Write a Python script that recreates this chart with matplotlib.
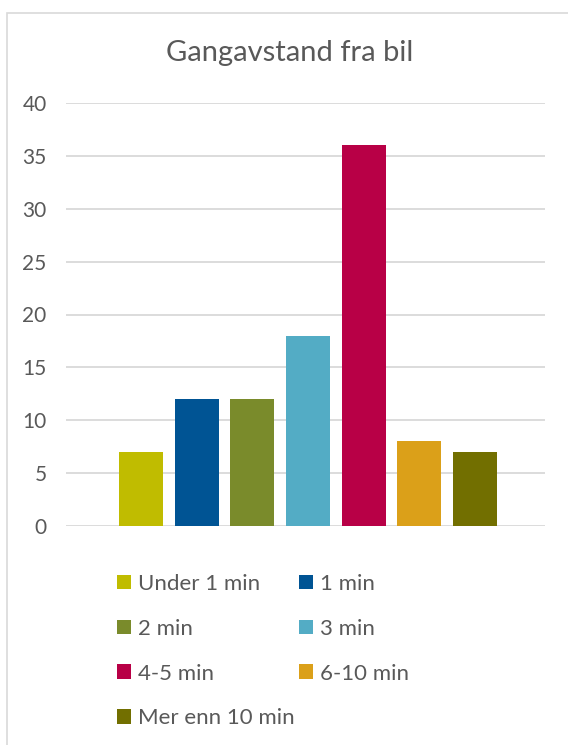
import matplotlib
matplotlib.use("Agg")
import matplotlib.pyplot as plt
from matplotlib.patches import Rectangle, Patch

categories = ["Under 1 min", "1 min", "2 min", "3 min", "4-5 min", "6-10 min", "Mer enn 10 min"]
values = [7, 12, 12, 18, 36, 8, 7]
colors = ["#c0bc00", "#005494", "#7a8b2b", "#53acc5", "#b80046", "#dba019", "#726f00"]
yticks = [0, 5, 10, 15, 20, 25, 30, 35, 40]
title = "Gangavstand fra bil"

plt.rcParams['font.family'] = ['Lato', 'DejaVu Sans']
txt = "#595959"
grid = "#d9d9d9"

W, H = 568, 745
fig = plt.figure(figsize=(W/100, H/100), dpi=100)
fig.patches.append(Rectangle((6.5/W, -0.1), 1.2, 1 - 12.5/H + 0.1, transform=fig.transFigure,
                             facecolor="none", edgecolor=grid, lw=1.2, zorder=-1))

ax = fig.add_axes([66/W, 1 - 526/H, (545-66)/W, (526-103)/H])
ax.set_facecolor("none")
x = list(range(len(categories)))
bars = ax.bar(x, values, width=0.79, color=colors, zorder=3)
ax.set_xlim(-1.347, 7.257)
ax.set_ylim(0, 40)
ax.set_yticks(yticks)
ax.set_xticks([])
for s in ax.spines.values():
    s.set_visible(False)
ax.yaxis.grid(True, color=grid, lw=1.3, zorder=0)
ax.tick_params(axis='y', length=0, pad=14, labelsize=15, labelcolor=txt)

fig.text(290 / W, 1 - 53/H, title, ha="center", va="center",
         fontsize=21, color=txt)

handles = [Patch(facecolor=c, edgecolor="none") for c in colors]
order = [0, 2, 4, 6, 1, 3, 5]
leg = fig.legend([handles[i] for i in order], [categories[i] for i in order],
                 ncol=2, loc="upper left", bbox_to_anchor=(99/W, 1 - 556/H),
                 frameon=False, fontsize=16, labelcolor=txt, borderpad=0.3,
                 handlelength=0.64, handleheight=0.64, handletextpad=0.3,
                 columnspacing=0.2, labelspacing=1.12)

fig.savefig("out.png", dpi=100)
